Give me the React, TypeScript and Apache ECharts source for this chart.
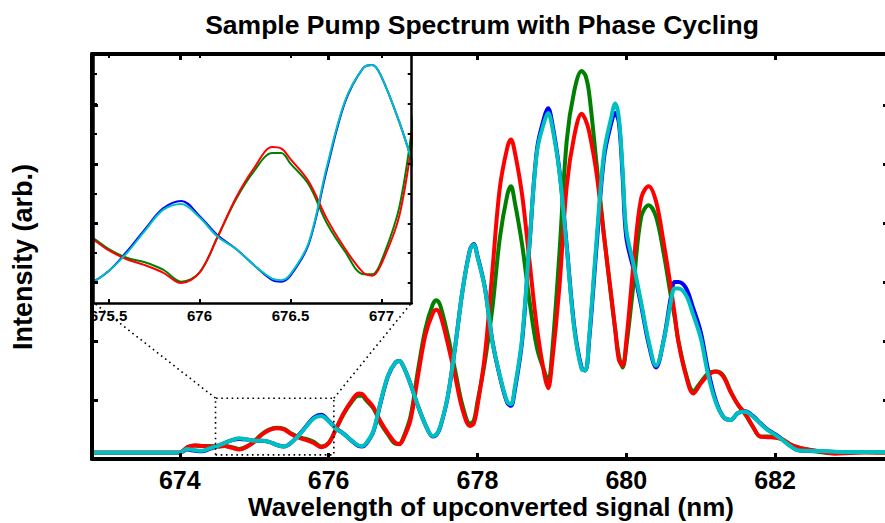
import React, { useEffect, useRef } from "react";
import * as echarts from "echarts";

// Wavelength samples (nm) shared by the four phase-cycled spectra
const wavelengths = [
  672.8, 673.3, 673.8, 674.0,
  674.1, 674.2, 674.3, 674.4, 674.5, 674.6, 674.7, 674.8, 674.9, 675.0,
  675.1, 675.2, 675.3, 675.4, 675.5, 675.6, 675.7, 675.8, 675.9, 676.0,
  676.1, 676.2, 676.3, 676.4, 676.45, 676.5, 676.6, 676.7, 676.8, 676.9, 676.95, 677.0,
  677.1, 677.2, 677.3, 677.4, 677.45, 677.5, 677.6, 677.7, 677.8, 677.9, 677.95, 678.0,
  678.1, 678.2, 678.3, 678.4, 678.45, 678.5, 678.6, 678.7, 678.8, 678.9, 678.95, 679.0,
  679.1, 679.2, 679.3, 679.4, 679.45, 679.5, 679.6, 679.7, 679.8, 679.85, 679.9, 679.95, 680.0,
  680.1, 680.2, 680.3, 680.4, 680.5, 680.6, 680.65, 680.7, 680.8, 680.9, 681.0,
  681.1, 681.2, 681.3, 681.4, 681.5, 681.6, 681.7, 681.8, 681.9, 682.0,
  682.1, 682.2, 682.3, 682.4, 682.6, 682.8, 683.0, 683.2, 683.4, 683.6,
];

const phaseBlue = [
  0.107, 0.107, 0.107, 0.107,
  0.16, 0.14, 0.13, 0.17, 0.22, 0.27, 0.32, 0.34, 0.33, 0.31,
  0.31, 0.29, 0.24, 0.21, 0.28, 0.41, 0.56, 0.7, 0.75, 0.65,
  0.52, 0.43, 0.32, 0.22, 0.21, 0.25, 0.46, 0.96, 1.41, 1.64, 1.66, 1.58,
  1.27, 0.9, 0.58, 0.38, 0.41, 0.54, 1.05, 1.9, 2.86, 3.55, 3.64, 3.44,
  2.9, 2.0, 1.4, 0.95, 0.9, 1.15, 2.0, 3.65, 5.25, 5.8, 5.94, 5.72,
  4.9, 3.6, 2.25, 1.54, 1.5, 2.0, 3.6, 5.1, 5.7, 5.86, 5.7, 4.8, 3.75,
  3.2, 2.6, 1.95, 1.55, 2.0, 2.75, 3.0, 3.0, 2.9, 2.55, 2.15,
  1.5, 1.0, 0.72, 0.66, 0.78, 0.81, 0.73, 0.61, 0.5, 0.42,
  0.33, 0.23, 0.15, 0.14, 0.13, 0.12, 0.12, 0.12, 0.12, 0.12,
];

const phaseGreen = [
  0.107, 0.107, 0.107, 0.107,
  0.2, 0.23, 0.22, 0.22, 0.21, 0.22, 0.2, 0.17, 0.21, 0.3,
  0.42, 0.5, 0.53, 0.51, 0.43, 0.37, 0.34, 0.29, 0.21, 0.27,
  0.51, 0.76, 0.95, 1.07, 1.07, 1.0, 0.86, 0.6, 0.41, 0.26, 0.26, 0.35,
  0.72, 1.5, 2.2, 2.62, 2.69, 2.6, 2.1, 1.5, 0.9, 0.6, 0.65, 0.97,
  1.65, 2.55, 3.74, 4.47, 4.62, 4.36, 3.63, 2.67, 1.88, 1.48, 1.31, 1.76,
  3.46, 5.4, 6.23, 6.57, 6.5, 6.2, 5.0, 3.8, 2.7, 2.2, 1.75, 1.55, 1.9,
  3.0, 4.1, 4.3, 4.1, 3.5, 2.75, 2.4, 2.0, 1.45, 1.15, 1.3,
  1.45, 1.48, 1.42, 1.15, 0.92, 0.75, 0.55, 0.38, 0.38, 0.37,
  0.33, 0.25, 0.2, 0.17, 0.12, 0.1, 0.11, 0.12, 0.11, 0.11,
];

const phaseRed = [
  0.107, 0.107, 0.107, 0.107,
  0.2, 0.23, 0.22, 0.21, 0.21, 0.22, 0.19, 0.16, 0.21, 0.29,
  0.41, 0.49, 0.52, 0.5, 0.42, 0.36, 0.32, 0.27, 0.2, 0.27,
  0.51, 0.77, 0.97, 1.11, 1.1, 1.03, 0.88, 0.63, 0.43, 0.27, 0.25, 0.33,
  0.66, 1.4, 2.1, 2.47, 2.53, 2.44, 1.96, 1.4, 0.83, 0.56, 0.6, 0.9,
  1.76, 3.18, 4.59, 5.27, 5.41, 5.21, 4.47, 3.34, 2.21, 1.42, 1.2, 1.6,
  2.9, 4.63, 5.47, 5.85, 5.75, 5.55, 4.84, 3.77, 2.75, 2.2, 1.68, 1.58, 2.0,
  3.34, 4.42, 4.62, 4.36, 3.68, 2.89, 2.45, 1.99, 1.42, 1.11, 1.28,
  1.42, 1.48, 1.4, 1.14, 0.92, 0.77, 0.55, 0.38, 0.37, 0.36,
  0.33, 0.25, 0.2, 0.17, 0.13, 0.09, 0.1, 0.11, 0.11, 0.11,
];

const phaseCyan = [
  0.107, 0.107, 0.107, 0.107,
  0.17, 0.15, 0.14, 0.18, 0.22, 0.27, 0.32, 0.35, 0.33, 0.31,
  0.31, 0.29, 0.24, 0.21, 0.28, 0.4, 0.55, 0.69, 0.73, 0.64,
  0.51, 0.43, 0.32, 0.23, 0.22, 0.26, 0.47, 0.98, 1.42, 1.64, 1.66, 1.58,
  1.27, 0.9, 0.58, 0.39, 0.42, 0.55, 1.06, 1.9, 2.86, 3.54, 3.63, 3.42,
  2.89, 1.99, 1.42, 0.97, 0.93, 1.2, 2.05, 3.68, 5.21, 5.72, 5.86, 5.66,
  4.87, 3.57, 2.21, 1.52, 1.5, 2.05, 3.7, 5.18, 5.8, 6.02, 5.78, 4.9, 3.88,
  3.28, 2.65, 2.0, 1.58, 1.99, 2.67, 2.89, 2.89, 2.78, 2.44, 2.05,
  1.42, 0.97, 0.72, 0.66, 0.78, 0.8, 0.72, 0.6, 0.49, 0.41,
  0.32, 0.22, 0.15, 0.14, 0.135, 0.124, 0.12, 0.12, 0.12, 0.12,
];

const mainTickValues = [674, 676, 678, 680, 682];
const mainYTickValues = [1, 2, 3, 4, 5, 6];
const insetXTickValues = [675.5, 676, 676.5, 677];
const insetYTickValues = [0.2, 0.4, 0.6, 0.8, 1.0, 1.2, 1.4, 1.6];

// zoom indicator (main-axis data coordinates)
const zoomBox = [
  [674.48, 0.07],
  [676.07, 0.07],
  [676.07, 1.03],
  [674.48, 1.03],
  [674.48, 0.07],
];
const zoomLinkLeft = [
  [674.48, 1.03],
  [672.85, 2.64],
];
const zoomLinkRight = [
  [676.07, 1.03],
  [677.11, 2.64],
];

const titleText = "Sample Pump Spectrum with Phase Cycling";
const xTitleText = "Wavelength of upconverted signal (nm)";
const yTitleText = "Intensity (arb.)";

const seriesDefs = [
  { name: "0", color: "#0000ff", values: phaseBlue },
  { name: "90", color: "#008000", values: phaseGreen },
  { name: "180", color: "#ff0000", values: phaseRed },
  { name: "270", color: "#00bfbf", values: phaseCyan },
];

const FONT = "'Liberation Sans', Arial, Helvetica, sans-serif";

function xAxisCfg(opts: any) {
  return {
    type: "value",
    gridIndex: opts.grid,
    position: opts.position,
    min: opts.min,
    max: opts.max,
    z: opts.z,
    axisLine: { show: true, onZero: false, lineStyle: { color: "#000", width: opts.lineW } },
    axisTick: {
      show: true,
      inside: true,
      length: opts.tickLen,
      lineStyle: { color: "#000", width: opts.tickW },
      customValues: opts.ticks,
    },
    axisLabel: {
      show: opts.labels,
      customValues: opts.ticks,
      color: "#000",
      fontFamily: FONT,
      fontWeight: "bold",
      fontSize: opts.fontSize,
      lineHeight: opts.fontSize,
      margin: opts.margin,
    },
    splitLine: { show: false },
  };
}

function yAxisCfg(opts: any) {
  return {
    type: "value",
    gridIndex: opts.grid,
    position: opts.position,
    min: opts.min,
    max: opts.max,
    z: opts.z,
    axisLine: { show: true, onZero: false, lineStyle: { color: "#000", width: opts.lineW } },
    axisTick: {
      show: true,
      inside: true,
      length: opts.tickLen,
      lineStyle: { color: "#000", width: opts.tickW },
      customValues: opts.ticks,
    },
    axisLabel: { show: false },
    splitLine: { show: false },
  };
}

export default function App() {
  const ref = useRef<HTMLDivElement>(null);

  useEffect(() => {
    if (!ref.current) return;
    const chart = echarts.init(ref.current, null, { renderer: "svg" });

    const toPairs = (vals: number[]) => wavelengths.map((w, i) => [w, vals[i]]);

    const mainSeries = seriesDefs.map((s, i) => ({
      type: "line",
      name: s.name,
      xAxisIndex: 0,
      yAxisIndex: 0,
      data: toPairs(s.values),
      smooth: 0.35,
      symbol: "none",
      silent: true,
      z: 2 + i * 0.1,
      lineStyle: { color: s.color, width: 4, join: "round", cap: "round" },
    }));

    const insetSeries = seriesDefs.map((s, i) => ({
      type: "line",
      name: s.name + "-inset",
      xAxisIndex: 2,
      yAxisIndex: 2,
      data: toPairs(s.values),
      smooth: 0.35,
      symbol: "none",
      silent: true,
      z: 6 + i * 0.1,
      lineStyle: { color: s.color, width: 2 },
    }));

    const dotted = (data: number[][]) => ({
      type: "line",
      xAxisIndex: 0,
      yAxisIndex: 0,
      data,
      symbol: "none",
      silent: true,
      z: 3,
      lineStyle: { color: "#000", width: 1.6, type: [1.6, 3.6] },
    });

    const textStyle = (text: string, size: number) => ({
      text,
      fontFamily: FONT,
      fontWeight: "bold",
      fontSize: size,
      lineHeight: size,
      fill: "#000",
      align: "center",
      verticalAlign: "middle",
      textAlign: "center",
      textVerticalAlign: "middle",
    });

    chart.setOption({
      animation: false,
      backgroundColor: "#fff",
      grid: [
        { left: 92, top: 54, right: 4, bottom: 64, z: 0 },
        {
          left: 93,
          top: 54,
          right: 481.3,
          bottom: 220,
          show: true,
          backgroundColor: "#fff",
          borderWidth: 0,
          z: 5,
        },
      ],
      xAxis: [
        xAxisCfg({ grid: 0, position: "bottom", min: 672.82, max: 683.53, ticks: mainTickValues, labels: true, fontSize: 25, margin: 8, lineW: 4, tickLen: 6, tickW: 3, z: 8 }),
        xAxisCfg({ grid: 0, position: "top", min: 672.82, max: 683.53, ticks: mainTickValues, labels: false, fontSize: 25, margin: 8, lineW: 4, tickLen: 6, tickW: 3, z: 8 }),
        xAxisCfg({ grid: 1, position: "bottom", min: 675.415, max: 677.166, ticks: insetXTickValues, labels: true, fontSize: 15, margin: 5, lineW: 2.5, tickLen: 4, tickW: 2, z: 7 }),
        xAxisCfg({ grid: 1, position: "top", min: 675.415, max: 677.166, ticks: insetXTickValues, labels: false, fontSize: 15, margin: 5, lineW: 2.5, tickLen: 4, tickW: 2, z: 7 }),
      ],
      yAxis: [
        yAxisCfg({ grid: 0, position: "left", min: 0, max: 6.86, ticks: mainYTickValues, lineW: 4, tickLen: 6, tickW: 3, z: 8 }),
        yAxisCfg({ grid: 0, position: "right", min: 0, max: 6.86, ticks: mainYTickValues, lineW: 4, tickLen: 6, tickW: 3, z: 8 }),
        yAxisCfg({ grid: 1, position: "left", min: 0.067, max: 1.733, ticks: insetYTickValues, lineW: 2.5, tickLen: 4, tickW: 2, z: 7 }),
        yAxisCfg({ grid: 1, position: "right", min: 0.067, max: 1.733, ticks: insetYTickValues, lineW: 2.5, tickLen: 4, tickW: 2, z: 7 }),
      ],
      series: [
        ...mainSeries,
        dotted(zoomBox),
        dotted(zoomLinkLeft),
        dotted(zoomLinkRight),
        ...insetSeries,
      ],
      graphic: [
        { type: "text", x: 482, y: 25, z: 20, style: textStyle(titleText, 26.5) },
        { type: "text", x: 491, y: 507, z: 20, style: textStyle(xTitleText, 26) },
        { type: "text", x: 23, y: 257, rotation: Math.PI / 2, z: 20, style: textStyle(yTitleText, 27) },
      ],
    });

    return () => {
      chart.dispose();
    };
  }, []);

  return (
    <div
      ref={ref}
      style={{ position: "fixed", left: 0, top: 0, width: "893px", height: "523px", background: "#fff" }}
    />
  );
}
